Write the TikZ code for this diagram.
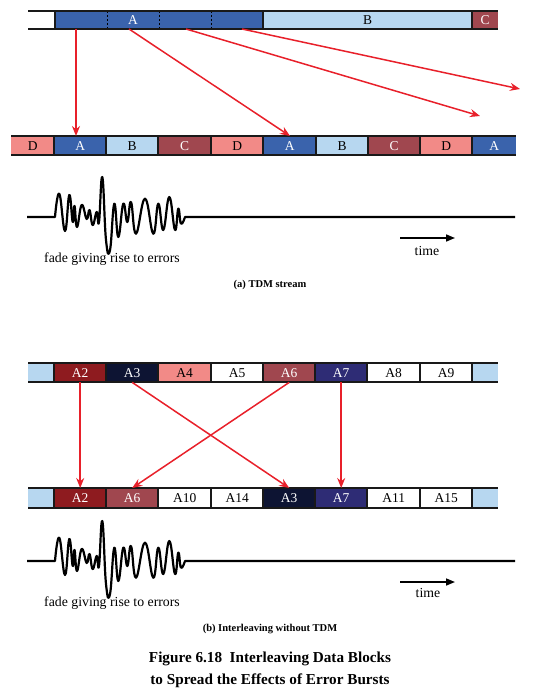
\documentclass[tikz,border=0pt]{standalone}
\usepackage{fontspec}
\setmainfont{Liberation Serif}
\usetikzlibrary{arrows.meta}
\definecolor{ablue}{HTML}{3A63AC}
\definecolor{lblue}{HTML}{B7D7F0}
\definecolor{crose}{HTML}{A0474F}
\definecolor{dsalmon}{HTML}{F28A87}
\definecolor{dred}{HTML}{8E1B1F}
\definecolor{dnavy}{HTML}{0D1433}
\definecolor{navy}{HTML}{2E2C75}
\definecolor{arr}{HTML}{E8202A}
\begin{document}
\begin{tikzpicture}[x=1pt,y=-1pt,
  cell/.style={draw=none, inner sep=0pt, anchor=north west, font=\fontsize{13.5}{15}\selectfont},
  rule/.style={line width=1.5pt, black!90},
  sep/.style={line width=1.3pt, black!90},
  redarrow/.style={draw=arr, line width=1.5pt, -{Stealth[length=10pt,width=8pt]}},
  timearrow/.style={line width=1.6pt, -{Triangle[length=9pt,width=7pt]}},
  lbl/.style={font=\fontsize{13.8}{15}\selectfont, inner sep=0pt},
  subcap/.style={font=\bfseries\fontsize{10.5}{12}\selectfont, inner sep=0pt},
  figcap/.style={font=\bfseries\fontsize{15.2}{22}\selectfont, inner sep=0pt, align=center},
  wave/.style={line width=2.2pt, line join=round}
]
\useasboundingbox (0,0) rectangle (541,700);

% ---------- (a) top stream ----------
\foreach \xa/\xb/\fc/\n in {28/55/white/t0, 55/263/ablue/tA, 263/472/lblue/tB, 472/498/crose/tC}
  \node[cell, fill=\fc, minimum width={(\xb-\xa)*1pt}, minimum height=18pt] (\n) at (\xa,11) {};
\node[cell, anchor=center, text=white] (tAl) at (133,20) {A};
\node[cell, anchor=center, text=black] (tBl) at (tB.center) {B};
\node[cell, anchor=center, text=white] (tCl) at (tC.center) {C};
\foreach \x in {107,159,211}
  \draw[black, line width=0.8pt, dash pattern=on 2pt off 2pt] (\x,11) -- (\x,29);
\foreach \x in {55,263,472}
  \draw[sep] (\x,11) -- (\x,29);
\draw[rule] (28,11) -- (498,11);
\draw[rule] (28,29) -- (498,29);

% ---------- (a) middle row ----------
\foreach \xa/\xb/\fc/\tc/\l/\n in {11/54/dsalmon/black/D/m1, 54/106/ablue/white/A/m2, 106/158/lblue/black/B/m3, 158/211/crose/white/C/m4, 211/263/dsalmon/black/D/m5, 263/316/ablue/white/A/m6, 316/368/lblue/black/B/m7, 368/420/crose/white/C/m8, 420/472/dsalmon/black/D/m9, 472/516/ablue/white/A/m10}
  \node[cell, fill=\fc, text=\tc, minimum width={(\xb-\xa)*1pt}, minimum height=19pt] (\n) at (\xa,136) {\l};
\foreach \x in {54,106,158,211,263,316,368,420,472}
  \draw[sep] (\x,136) -- (\x,155);
\draw[rule] (11,136) -- (516,136);
\draw[rule] (11,155) -- (516,155);

% arrows (a)
\coordinate (s1) at (76,29);
\coordinate (s2) at (129,29);
\coordinate (s3) at (186,29);
\coordinate (s4) at (242,29);
\coordinate (e1) at (76,136);
\coordinate (e2) at (290,136);
\coordinate (e3) at (480,116);
\coordinate (e4) at (520,89);
\draw[redarrow] (s1) -- (e1);
\draw[redarrow] (s2) -- (e2);
\draw[redarrow] (s3) -- (e3);
\draw[redarrow] (s4) -- (e4);

% waveform (a)
\draw[wave] (27,217) -- (55,217) -- plot[smooth, tension=0.75] coordinates {(55,217) (59.3,193.7) (65,231) (69.3,195) (72.7,222) (74.5,206) (77,227) (81.7,205) (86.7,219) (89.5,210) (92.7,225) (96.7,212) (99,222) (102.3,177) (106,240) (110,250) (114.3,203.7) (118.3,237) (123.3,203.7) (127.3,222) (131,202) (136,233.7) (145,198.7) (153.3,233.7) (158.3,203.7) (163.3,230) (169.3,197) (175,230) (178.3,208.7) (181,223.7) (185,217)} -- (515,217);
\node[lbl] (fadeA) at (112,259) {fade giving rise to errors};
\coordinate (ta0) at (400,238);
\coordinate (ta1) at (455,238);
\draw[timearrow] (ta0) -- (ta1);
\node[lbl] (timeA) at (427,251) {time};
\node[subcap] (subA) at (270,285) {(a) TDM stream};

% ---------- (b) interleaving ----------
\foreach \xa/\xb/\fc/\tc/\l/\n in {28/54/lblue/black//u0, 54/106/dred/white/A2/u1, 106/158/dnavy/white/A3/u2, 158/211/dsalmon/black/A4/u3, 211/263/white/black/A5/u4, 263/315/crose/white/A6/u5, 315/367/navy/white/A7/u6, 367/420/white/black/A8/u7, 420/472/white/black/A9/u8, 472/498/lblue/black//u9}
  \node[cell, fill=\fc, text=\tc, minimum width={(\xb-\xa)*1pt}, minimum height=19pt] (\n) at (\xa,363) {\l};
\foreach \x in {54,106,158,211,263,315,367,420,472}
  \draw[sep] (\x,363) -- (\x,382);
\draw[rule] (28,363) -- (498,363);
\draw[rule] (28,382) -- (498,382);

\foreach \xa/\xb/\fc/\tc/\l/\n in {28/54/lblue/black//v0, 54/106/dred/white/A2/v1, 106/158/crose/white/A6/v2, 158/211/white/black/A10/v3, 211/263/white/black/A14/v4, 263/315/dnavy/white/A3/v5, 315/367/navy/white/A7/v6, 367/420/white/black/A11/v7, 420/472/white/black/A15/v8, 472/498/lblue/black//v9}
  \node[cell, fill=\fc, text=\tc, minimum width={(\xb-\xa)*1pt}, minimum height=20pt] (\n) at (\xa,488) {\l};
\foreach \x in {54,106,158,211,263,315,367,420,472}
  \draw[sep] (\x,488) -- (\x,508);
\draw[rule] (28,488) -- (498,488);
\draw[rule] (28,508) -- (498,508);

\draw[redarrow] (u1.south) -- (v1.north);
\draw[redarrow] (u2.south) -- (v5.north);
\draw[redarrow] (u5.south) -- (v2.north);
\draw[redarrow] (u6.south) -- (v6.north);

% waveform (b)
\begin{scope}[shift={(0,344)}]
\draw[wave] (27,217) -- (55,217) -- plot[smooth, tension=0.75] coordinates {(55,217) (59.3,193.7) (65,231) (69.3,195) (72.7,222) (74.5,206) (77,227) (81.7,205) (86.7,219) (89.5,210) (92.7,225) (96.7,212) (99,222) (102.3,177) (106,240) (110,250) (114.3,203.7) (118.3,237) (123.3,203.7) (127.3,222) (131,202) (136,233.7) (145,198.7) (153.3,233.7) (158.3,203.7) (163.3,230) (169.3,197) (175,230) (178.3,208.7) (181,223.7) (185,217)} -- (515,217);
\end{scope}
\node[lbl] (fadeB) at (112,603) {fade giving rise to errors};
\coordinate (tb0) at (400,582);
\coordinate (tb1) at (455,582);
\draw[timearrow] (tb0) -- (tb1);
\node[lbl] (timeB) at (428,593) {time};
\node[subcap] (subB) at (270,629) {(b) Interleaving without TDM};

\node[figcap] (capt) at (270,670) {Figure 6.18\ \ Interleaving Data Blocks\\to Spread the Effects of Error Bursts};
\end{tikzpicture}
\end{document}
